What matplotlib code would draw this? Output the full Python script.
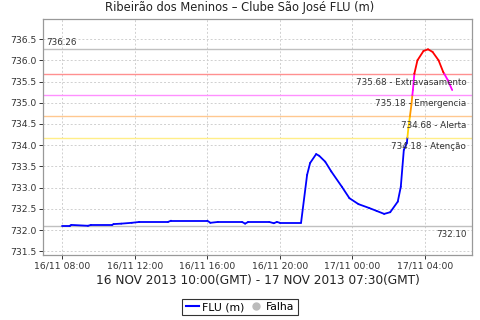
import matplotlib
matplotlib.use("Agg")
import matplotlib.pyplot as plt
import matplotlib.dates as mdates
from matplotlib.collections import LineCollection
from matplotlib.lines import Line2D
import numpy as np
from datetime import datetime

times = ["16/11 08:00", "16/11 08:25", "16/11 08:30", "16/11 09:25", "16/11 09:35",
         "16/11 10:45", "16/11 10:50", "16/11 11:15", "16/11 11:50", "16/11 12:15",
         "16/11 13:50", "16/11 14:00", "16/11 16:00", "16/11 16:10", "16/11 16:35",
         "16/11 17:55", "16/11 18:05", "16/11 18:15", "16/11 19:25", "16/11 19:40",
         "16/11 19:50", "16/11 20:00", "16/11 21:10", "16/11 21:30", "16/11 21:40",
         "16/11 22:00", "16/11 22:10", "16/11 22:30", "16/11 22:50", "16/11 23:25",
         "16/11 23:50", "17/11 00:20", "17/11 00:55", "17/11 01:20", "17/11 01:45",
         "17/11 02:05", "17/11 02:30", "17/11 02:40", "17/11 02:50", "17/11 03:00",
         "17/11 03:05", "17/11 03:10", "17/11 03:15", "17/11 03:20", "17/11 03:25",
         "17/11 03:35", "17/11 03:55", "17/11 04:10", "17/11 04:25", "17/11 04:45",
         "17/11 05:00", "17/11 05:15", "17/11 05:30"]
levels = [732.10, 732.10, 732.12, 732.10, 732.12,
          732.12, 732.14, 732.15, 732.17, 732.19,
          732.19, 732.22, 732.22, 732.17, 732.19,
          732.19, 732.15, 732.19, 732.19, 732.16,
          732.19, 732.17, 732.17, 733.30, 733.58,
          733.79, 733.75, 733.61, 733.38, 733.02,
          732.75, 732.61, 732.52, 732.45, 732.38,
          732.42, 732.67, 733.02, 733.89, 734.05,
          734.40, 734.67, 734.95, 735.30, 735.69,
          736.00, 736.22, 736.26, 736.20, 736.00,
          735.73, 735.54, 735.30]

thresholds = [734.18, 734.68, 735.18, 735.68]
threshold_names = ["Atenção", "Alerta", "Emergencia", "Extravasamento"]
threshold_line_colors = ["#FFEE88", "#FFC890", "#FF90FF", "#FF9090"]
band_colors = ["#0000FF", "#FFD000", "#FF9900", "#FF00FF", "#FF0000"]
max_label = "736.26"
min_label = "732.10"
max_value = 736.26
min_value = 732.10

dts = [datetime.strptime("2013/" + t, "%Y/%d/%m %H:%M") for t in times]
xs = mdates.date2num(dts)
ys = np.array(levels)

def band(v):
    return int(np.searchsorted(thresholds, v))

# split segments at threshold crossings for coloring
segs, cols = [], []
for i in range(len(xs) - 1):
    x0, y0, x1, y1 = xs[i], ys[i], xs[i + 1], ys[i + 1]
    pts = [(x0, y0)]
    cross = [t for t in thresholds if min(y0, y1) < t < max(y0, y1)]
    cross.sort(reverse=(y1 < y0))
    for t in cross:
        f = (t - y0) / (y1 - y0)
        pts.append((x0 + f * (x1 - x0), t))
    pts.append((x1, y1))
    for a, b in zip(pts[:-1], pts[1:]):
        segs.append([a, b])
        cols.append(band_colors[band((a[1] + b[1]) / 2)])

fig = plt.figure(figsize=(4.8, 3.2), dpi=100)
ax = fig.add_axes([0.090, 0.203, 0.893, 0.737])

ax.set_xlim(mdates.date2num(datetime(2013, 11, 16, 6, 57)),
            mdates.date2num(datetime(2013, 11, 17, 6, 35)))
ax.set_ylim(731.41, 736.97)

ax.grid(True, color="#D0D0D0", linestyle=(0, (2, 2)), linewidth=0.7)
ax.set_axisbelow(True)

for t, c in zip(thresholds, threshold_line_colors):
    ax.axhline(t, color=c, linewidth=1.0, zorder=2)
ax.axhline(max_value, color="#C0C0C0", linewidth=1.0, zorder=2)
ax.axhline(min_value, color="#C0C0C0", linewidth=1.0, zorder=2)

lc = LineCollection(segs, colors=cols, linewidths=1.3, zorder=3, capstyle="round", joinstyle="round")
ax.add_collection(lc)

tf = dict(fontsize=6.3, color="#333333", family="DejaVu Sans")
ax.annotate(max_label, xy=(0, max_value), xycoords=("axes fraction", "data"),
            xytext=(2, 2), textcoords="offset points", ha="left", va="bottom", **tf)
ax.annotate(min_label, xy=(1, min_value), xycoords=("axes fraction", "data"),
            xytext=(-4, -3), textcoords="offset points", ha="right", va="top", **tf)
for t, n in zip(thresholds, threshold_names):
    ax.annotate(f"{t:.2f} - {n}", xy=(1, t), xycoords=("axes fraction", "data"),
                xytext=(-4, -3), textcoords="offset points", ha="right", va="top", **tf, zorder=4)

ax.set_yticks(np.arange(731.5, 736.51, 0.5))
ax.yaxis.set_major_formatter(plt.FuncFormatter(lambda v, p: f"{v:.1f}"))
ax.set_xticks([mdates.date2num(datetime(2013, 11, 16, h)) for h in (8, 12, 16, 20)] +
              [mdates.date2num(datetime(2013, 11, 17, h)) for h in (0, 4)])
ax.xaxis.set_major_formatter(mdates.DateFormatter("%d/%m %H:%M"))
ax.tick_params(labelsize=6.7, colors="#333333", length=3, width=0.7, pad=2)
for s in ax.spines.values():
    s.set_color("#999999")
    s.set_linewidth(0.9)

fig.text(0.5, 0.975, "Ribeirão dos Meninos – Clube São José FLU (m)", fontsize=8.3,
         color="#222222", ha="center", va="center")
ax.set_xlabel("16 NOV 2013 10:00(GMT) - 17 NOV 2013 07:30(GMT)", fontsize=8.7, color="#222222", labelpad=2)

handles = [Line2D([0], [0], color="#0000FF", lw=1.5),
           Line2D([0], [0], marker="o", color="none", markerfacecolor="#BBBBBB",
                  markeredgecolor="#BBBBBB", markersize=5)]
leg = fig.legend(handles, ["FLU (m)", "Falha"], loc="center", bbox_to_anchor=(0.5, 0.04),
                 ncol=2, fontsize=7.8, frameon=True, fancybox=False, handlelength=1.2,
                 handletextpad=0.3, columnspacing=0.5, borderpad=0.3, borderaxespad=0)
leg.get_frame().set_edgecolor("black")
leg.get_frame().set_linewidth(0.8)

fig.savefig("out.png", dpi=100)
